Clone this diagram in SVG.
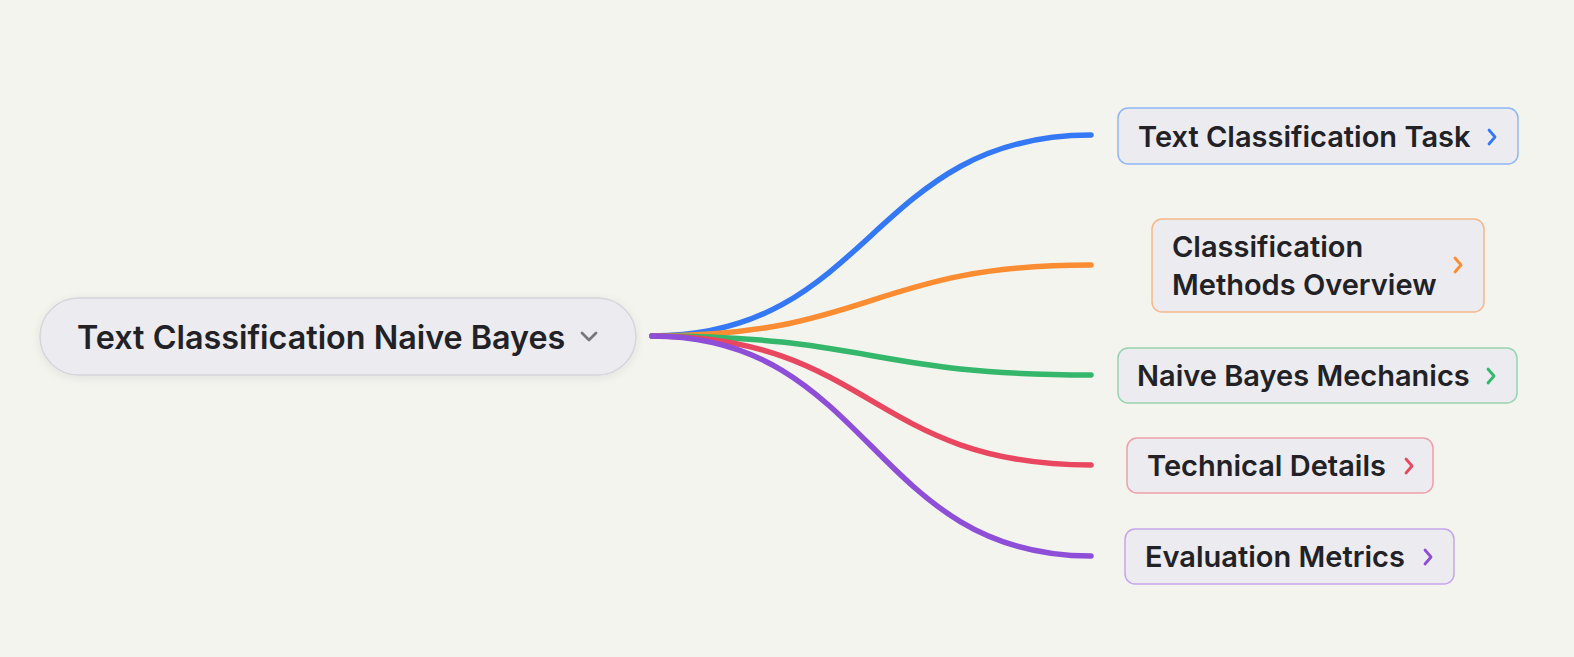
<svg xmlns="http://www.w3.org/2000/svg" width="1574" height="657" viewBox="0 0 1574 657">
<defs>
<filter id="sh" x="-10%" y="-30%" width="120%" height="160%">
<feDropShadow dx="0" dy="2" stdDeviation="4" flood-color="#000" flood-opacity="0.08"/>
</filter>
<style>
.lbl{font-family:Inter,"Noto Sans","Liberation Sans",sans-serif;font-weight:600;fill:#222226}
.root{font-size:32.3px}
.child{font-size:29px}
.box{fill:#ebebf0;stroke-width:1.5}
.edge{fill:none;stroke-width:5.5;stroke-linecap:round}
.chev{fill:none;stroke-width:2.8;stroke-linecap:round;stroke-linejoin:round}
</style>
</defs>
<rect width="1574" height="657" fill="#f4f4ef"/>
<g id="connectors">
<path class="edge" stroke="#3478f6" d="M652,336 C871,336 871,135 1091,135"/>
<path class="edge" stroke="#fb8c32" d="M652,336 C871,336 871,265 1091,265"/>
<path class="edge" stroke="#34b76a" d="M652,336 C871,336 871,375 1091,375"/>
<path class="edge" stroke="#e8475f" d="M652,336 C871,336 871,465 1091,465"/>
<path class="edge" stroke="#8e4ed8" d="M652,336 C871,336 871,556 1091,556"/>
</g>
<g id="root">
<rect class="box" x="40" y="298" width="596" height="77" rx="38.5" stroke="#d5d5dc" filter="url(#sh)"/>
<text class="lbl root" x="77" y="349">Text Classification Naive Bayes</text>
<path class="chev" stroke="#77777c" d="M582,333 L589,340 L596,333"/>
</g>
<g id="n1">
<rect class="box" x="1118" y="108" width="400" height="56" rx="10" stroke="#8fb6f5"/>
<text class="lbl child" x="1138" y="147">Text Classification Task</text>
<path class="chev" stroke="#3478f6" d="M1489,130 L1495,137 L1489,144"/>
</g>
<g id="n2">
<rect class="box" x="1152" y="219" width="332" height="93" rx="10" stroke="#f5b88a"/>
<text class="lbl child" x="1172" y="257">Classification</text>
<text class="lbl child" x="1172" y="295">Methods Overview</text>
<path class="chev" stroke="#fb8c32" d="M1455,258 L1461,265 L1455,272"/>
</g>
<g id="n3">
<rect class="box" x="1118" y="348" width="399" height="55" rx="10" stroke="#98d4b0"/>
<text class="lbl child" x="1137" y="386">Naive Bayes Mechanics</text>
<path class="chev" stroke="#34b76a" d="M1488,369 L1494,376 L1488,383"/>
</g>
<g id="n4">
<rect class="box" x="1127" y="438" width="306" height="55" rx="10" stroke="#eea0aa"/>
<text class="lbl child" x="1147" y="476">Technical Details</text>
<path class="chev" stroke="#e8475f" d="M1406,459 L1412,466 L1406,473"/>
</g>
<g id="n5">
<rect class="box" x="1125" y="529" width="329" height="55" rx="10" stroke="#c6a5ec"/>
<text class="lbl child" x="1145" y="567">Evaluation Metrics</text>
<path class="chev" stroke="#8e4ed8" d="M1425,550 L1431,557 L1425,564"/>
</g>
</svg>
